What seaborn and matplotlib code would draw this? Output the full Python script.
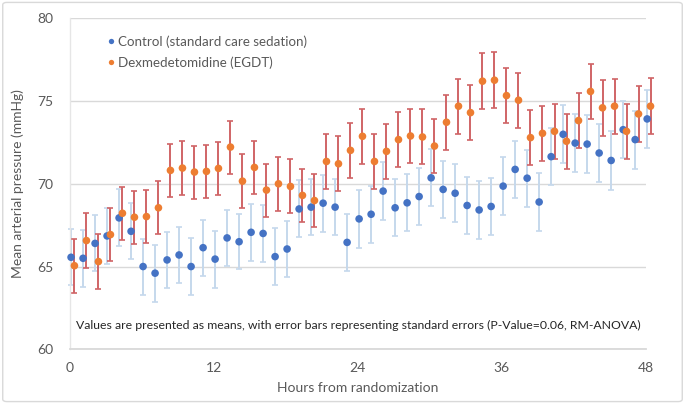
import seaborn as sns
import matplotlib.pyplot as plt
import matplotlib.patches as patches
import pandas as pd

# datos
horas = list(range(49))

control_media = [65.56, 65.50, 66.40, 66.85, 67.94, 67.13, 65.00, 64.60, 65.40, 65.70,
                 65.00, 66.14, 65.45, 66.73, 66.50, 67.07, 67.00, 65.60, 66.06, 68.48,
                 68.59, 68.83, 68.59, 66.46, 67.88, 68.16, 69.56, 68.55, 68.85, 69.23,
                 70.36, 69.66, 69.43, 68.69, 68.42, 68.63, 69.86, 70.87, 70.34, 68.90,
                 71.64, 72.99, 72.46, 72.40, 71.86, 71.41, 73.27, 72.67, 73.92]
control_se = [1.69, 1.72, 1.69, 1.70, 1.72, 1.70, 1.69, 1.72, 1.69, 1.69,
              1.71, 1.69, 1.72, 1.71, 1.67, 1.72, 1.72, 1.70, 1.70, 1.72,
              1.70, 1.72, 1.71, 1.72, 1.74, 1.72, 1.75, 1.72, 1.73, 1.74,
              1.72, 1.73, 1.74, 1.75, 1.76, 1.74, 1.75, 1.74, 1.72, 1.76,
              1.74, 1.75, 1.73, 1.76, 1.75, 1.76, 1.74, 1.75, 1.76]

dex_media = [65.05, 66.57, 65.30, 66.93, 68.22, 67.98, 68.02, 68.55, 70.81, 70.95,
             70.71, 70.75, 70.93, 72.22, 70.16, 70.99, 69.62, 70.00, 69.84, 69.30,
             68.99, 71.35, 71.21, 72.02, 72.87, 71.35, 71.96, 72.67, 72.89, 72.83,
             72.28, 73.72, 74.69, 74.30, 76.20, 76.26, 75.33, 75.05, 72.79, 73.05,
             73.17, 72.57, 73.82, 75.58, 74.59, 74.69, 73.17, 74.22, 74.69]
dex_se = [1.62, 1.64, 1.64, 1.62, 1.60, 1.60, 1.60, 1.61, 1.60, 1.62,
          1.60, 1.60, 1.59, 1.60, 1.62, 1.61, 1.60, 1.62, 1.63, 1.62,
          1.63, 1.64, 1.65, 1.64, 1.66, 1.64, 1.65, 1.66, 1.65, 1.66,
          1.65, 1.66, 1.67, 1.66, 1.68, 1.69, 1.68, 1.67, 1.68, 1.67,
          1.68, 1.67, 1.66, 1.67, 1.68, 1.67, 1.68, 1.68, 1.69]

df = pd.DataFrame({
    "hora": horas + horas,
    "media": control_media + dex_media,
    "se": control_se + dex_se,
    "grupo": ["Control (standard care sedation)"] * 49 + ["Dexmedetomidine (EGDT)"] * 49,
})
# pequeño desplazamiento horizontal entre grupos como en el original
df["x"] = df["hora"] + df["grupo"].map({"Control (standard care sedation)": 0.1,
                                        "Dexmedetomidine (EGDT)": 0.38})

sns.set_theme(style="white")
plt.rcParams["font.family"] = ["Lato", "DejaVu Sans"]

colores = {"Control (standard care sedation)": "#4472C4", "Dexmedetomidine (EGDT)": "#ED7D31"}
colores_barra = {"Control (standard care sedation)": "#C5D8EC", "Dexmedetomidine (EGDT)": "#D06466"}
gris = "#595959"

fig = plt.figure(figsize=(6.85, 4.04), dpi=100)
ax = fig.add_axes([0.102, 0.1354, 0.841, 0.8193])

for grupo, sub in df.groupby("grupo"):
    ax.errorbar(sub["x"], sub["media"], yerr=sub["se"], fmt="none",
                ecolor=colores_barra[grupo], elinewidth=1.4, capsize=2.2, capthick=1.2,
                zorder=2, clip_on=False)

sns.scatterplot(data=df, x="x", y="media", hue="grupo", palette=colores, s=30,
                edgecolor="none", ax=ax, zorder=3, clip_on=False)

ax.set_xlim(0, 48)
ax.set_ylim(60, 80)
ax.set_xticks([0, 12, 24, 36, 48])
ax.set_yticks([60, 65, 70, 75, 80])
ax.grid(axis="y", color="#D9D9D9", linewidth=1)
ax.set_axisbelow(True)
for lado in ["top", "right"]:
    ax.spines[lado].set_visible(False)
ax.spines["bottom"].set_color("#D9D9D9")
ax.spines["bottom"].set_linewidth(1.3)
ax.spines["left"].set_color("#E6E6E6")
ax.spines["left"].set_linewidth(1)
ax.tick_params(axis="both", length=0, labelsize=10, colors=gris)
ax.tick_params(axis="y", pad=12)
ax.tick_params(axis="x", pad=9)

ax.set_xlabel("Hours from randomization", fontsize=10, color=gris, labelpad=6)
ax.set_ylabel("Mean arterial pressure (mmHg)", fontsize=10, color=gris, labelpad=9)

ax.text(0.5, 0.072, "Values are presented as means, with error bars representing standard errors (P-Value=0.06, RM-ANOVA)",
        transform=ax.transAxes, ha="center", va="center", fontsize=8.8, color="#262626")

leg = ax.legend(loc="upper left", bbox_to_anchor=(0.05, 0.964), frameon=False,
                fontsize=9.6, handletextpad=0.05, labelspacing=0.6, markerscale=0.7,
                borderaxespad=0, handlelength=1.0)
for t in leg.get_texts():
    t.set_color(gris)

# borde del area del grafico
fig.patches.append(patches.FancyBboxPatch((0.004, 0.006), 0.992, 0.988,
                                          boxstyle="round,pad=0,rounding_size=0.006",
                                          transform=fig.transFigure, fill=False,
                                          edgecolor="#D9D9D9", linewidth=1))

plt.savefig("out.png", dpi=100)
plt.close()
